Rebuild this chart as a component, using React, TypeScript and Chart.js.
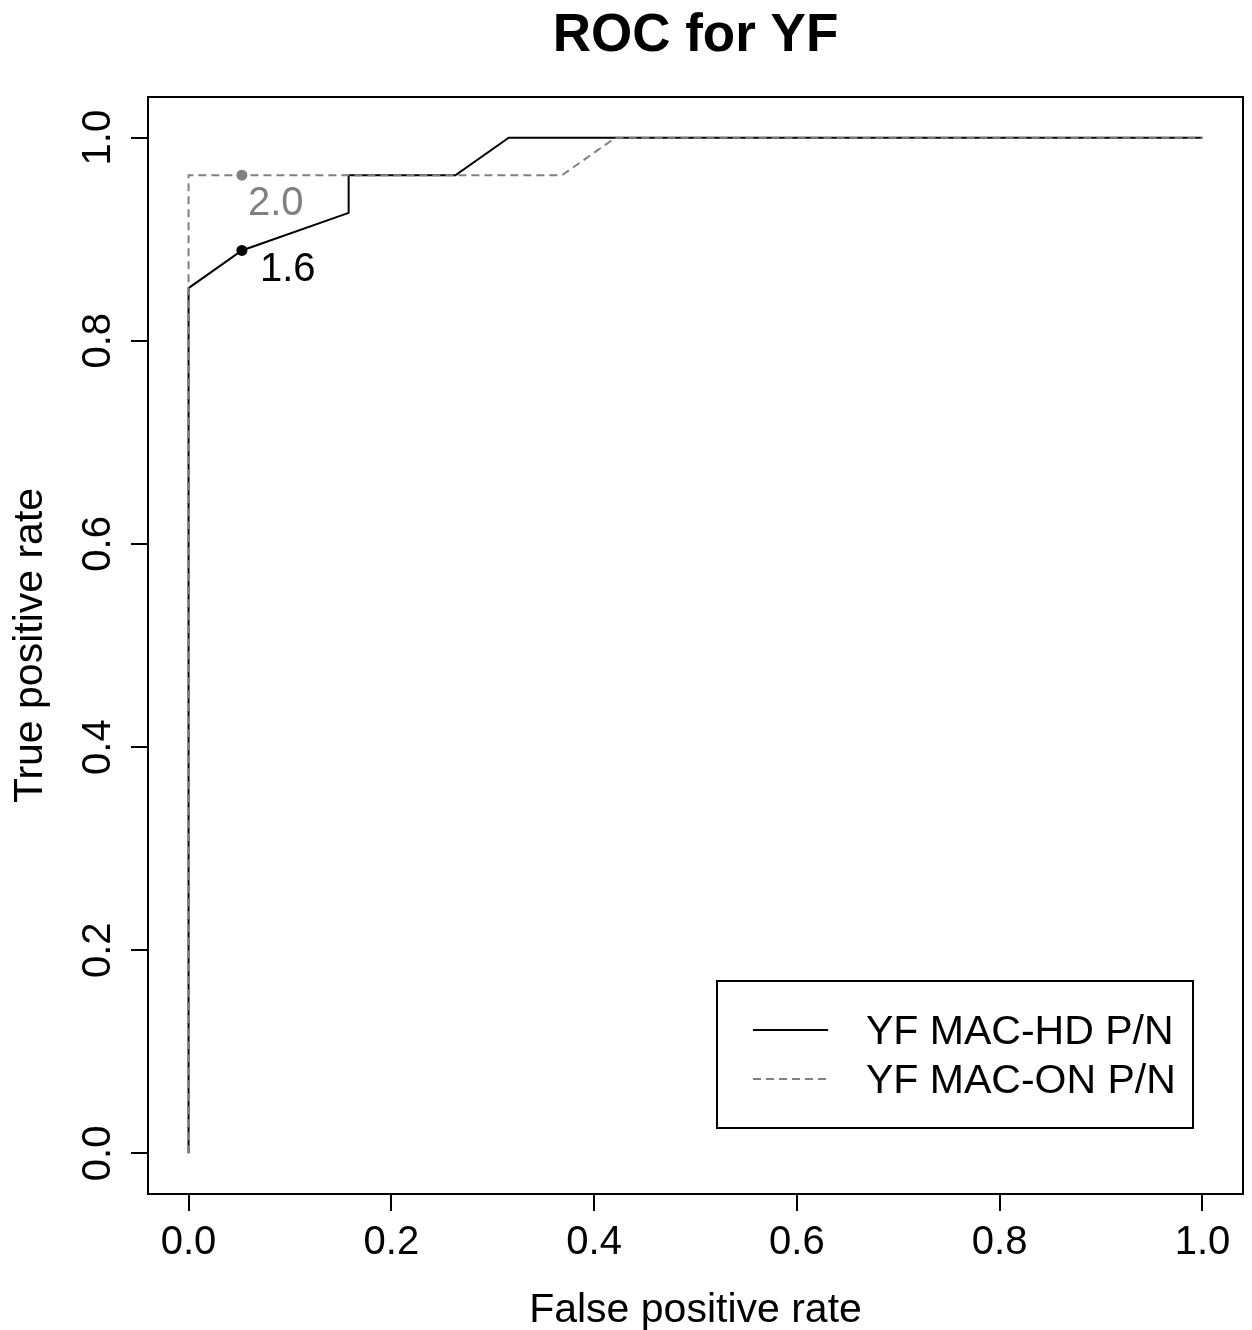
import React, { useEffect, useRef } from "react";
import { Chart, registerables } from "chart.js";

Chart.register(...registerables);

const TITLE = "ROC for YF";
const X_TITLE = "False positive rate";
const Y_TITLE = "True positive rate";
const TICK_VALUES = [0, 0.2, 0.4, 0.6, 0.8, 1.0];
const TICK_LABELS = ["0.0", "0.2", "0.4", "0.6", "0.8", "1.0"];
const SERIES_NAMES = ["YF MAC-HD P/N", "YF MAC-ON P/N"];

// YF MAC-HD P/N ROC curve
const HD_FPR = [0, 0, 0.0526, 0.1579, 0.1579, 0.2632, 0.3158, 1.0];
const HD_TPR = [0, 0.8519, 0.8889, 0.9259, 0.963, 0.963, 1.0, 1.0];
// YF MAC-ON P/N ROC curve
const ON_FPR = [0, 0, 0.3684, 0.4211, 1.0];
const ON_TPR = [0, 0.963, 0.963, 1.0, 1.0];

// cutoff markers
const CUTOFF_FPR = [0.0526, 0.0526];
const CUTOFF_TPR = [0.8889, 0.963];
const CUTOFF_LABELS = ["1.6", "2.0"];

const FONT = "'Liberation Sans', Arial, Helvetica, sans-serif";
const BLACK = "#000000";
const GRAY = "#808080";

const toPts = (xs: number[], ys: number[]) => xs.map((x, i) => ({ x, y: ys[i] }));

export default function App() {
  const ref = useRef<HTMLCanvasElement | null>(null);

  useEffect(() => {
    document.body.style.margin = "0";
    const canvas = ref.current;
    if (!canvas) return;

    const decor = {
      id: "decor",
      afterDraw(chart: any) {
        const { ctx, chartArea, scales } = chart;
        const xs = scales.x;
        const ys = scales.y;
        ctx.save();
        // plot box
        ctx.strokeStyle = BLACK;
        ctx.lineWidth = 2;
        ctx.strokeRect(chartArea.left, chartArea.top, chartArea.right - chartArea.left, chartArea.bottom - chartArea.top);

        ctx.fillStyle = BLACK;
        // title
        ctx.font = `bold 53px ${FONT}`;
        ctx.textAlign = "center";
        ctx.textBaseline = "alphabetic";
        const cx = (chartArea.left + chartArea.right) / 2;
        const cy = (chartArea.top + chartArea.bottom) / 2;
        ctx.fillText(TITLE, cx, 51);

        // x tick labels
        ctx.font = `40px ${FONT}`;
        TICK_VALUES.forEach((v, i) => {
          ctx.fillText(TICK_LABELS[i], xs.getPixelForValue(v), 1254);
        });
        // y tick labels (rotated)
        TICK_VALUES.forEach((v, i) => {
          ctx.save();
          ctx.translate(110, ys.getPixelForValue(v));
          ctx.rotate(-Math.PI / 2);
          ctx.fillText(TICK_LABELS[i], 0, 0);
          ctx.restore();
        });
        // axis titles
        ctx.font = `41px ${FONT}`;
        ctx.fillText(X_TITLE, cx, 1322);
        ctx.save();
        ctx.translate(42, cy);
        ctx.rotate(-Math.PI / 2);
        ctx.fillText(Y_TITLE, 0, 0);
        ctx.restore();

        // cutoff labels
        ctx.font = `40px ${FONT}`;
        ctx.textAlign = "left";
        const p0x = xs.getPixelForValue(CUTOFF_FPR[0]);
        const p0y = ys.getPixelForValue(CUTOFF_TPR[0]);
        ctx.fillStyle = BLACK;
        ctx.fillText(CUTOFF_LABELS[0], p0x + 18, p0y + 31);
        const p1x = xs.getPixelForValue(CUTOFF_FPR[1]);
        const p1y = ys.getPixelForValue(CUTOFF_TPR[1]);
        ctx.fillStyle = GRAY;
        ctx.fillText(CUTOFF_LABELS[1], p1x + 6, p1y + 40);

        // legend
        ctx.strokeStyle = BLACK;
        ctx.lineWidth = 2;
        ctx.strokeRect(717, 981, 476, 147);
        ctx.beginPath();
        ctx.moveTo(753, 1030);
        ctx.lineTo(828, 1030);
        ctx.stroke();
        ctx.strokeStyle = GRAY;
        ctx.setLineDash([8, 5]);
        ctx.beginPath();
        ctx.moveTo(753, 1079);
        ctx.lineTo(828, 1079);
        ctx.stroke();
        ctx.setLineDash([]);
        ctx.font = `41px ${FONT}`;
        ctx.fillStyle = BLACK;
        ctx.fillText(SERIES_NAMES[0], 866, 1044);
        ctx.fillText(SERIES_NAMES[1], 866, 1093);
        ctx.restore();
      },
    };

    const chart = new Chart(canvas, {
      type: "scatter",
      data: {
        datasets: [
          {
            label: SERIES_NAMES[1],
            data: toPts(ON_FPR, ON_TPR),
            showLine: true,
            borderColor: GRAY,
            borderWidth: 2,
            borderDash: [8, 5],
            pointRadius: 0,
            fill: false,
          },
          {
            label: SERIES_NAMES[0],
            data: toPts(HD_FPR, HD_TPR),
            showLine: true,
            borderColor: BLACK,
            borderWidth: 2,
            pointRadius: 0,
            fill: false,
          },
          {
            label: "cutoff HD",
            data: [{ x: CUTOFF_FPR[0], y: CUTOFF_TPR[0] }],
            showLine: false,
            pointRadius: 5.5,
            pointBackgroundColor: BLACK,
            pointBorderColor: BLACK,
            pointBorderWidth: 0,
          },
          {
            label: "cutoff ON",
            data: [{ x: CUTOFF_FPR[1], y: CUTOFF_TPR[1] }],
            showLine: false,
            pointRadius: 5.5,
            pointBackgroundColor: GRAY,
            pointBorderColor: GRAY,
            pointBorderWidth: 0,
          },
        ],
      },
      options: {
        animation: false,
        responsive: false,
        devicePixelRatio: 1,
        layout: { padding: { top: 97, right: 9, left: 0, bottom: 0 } },
        plugins: {
          legend: { display: false },
          title: { display: false },
          tooltip: { enabled: false },
        },
        scales: {
          x: {
            type: "linear",
            min: -0.04,
            max: 1.04,
            afterBuildTicks: (s: any) => {
              s.ticks = TICK_VALUES.map((v) => ({ value: v }));
            },
            afterFit: (s: any) => {
              s.height = 136;
              s.paddingLeft = 0;
              s.paddingRight = 0;
            },
            ticks: { display: false },
            border: { display: false },
            grid: {
              drawOnChartArea: false,
              drawTicks: true,
              tickLength: 17,
              color: BLACK,
              lineWidth: 2,
            },
          },
          y: {
            type: "linear",
            min: -0.04,
            max: 1.04,
            afterBuildTicks: (s: any) => {
              s.ticks = TICK_VALUES.map((v) => ({ value: v }));
            },
            afterFit: (s: any) => {
              s.width = 148;
              s.paddingTop = 0;
              s.paddingBottom = 0;
            },
            ticks: { display: false },
            border: { display: false },
            grid: {
              drawOnChartArea: false,
              drawTicks: true,
              tickLength: 17,
              color: BLACK,
              lineWidth: 2,
            },
          },
        },
      },
      plugins: [decor],
    });

    return () => chart.destroy();
  }, []);

  return (
    <div style={{ position: "absolute", left: 0, top: 0, width: 1252, height: 1330 }}>
      <canvas ref={ref} width={1252} height={1330} style={{ display: "block", width: 1252, height: 1330 }} />
    </div>
  );
}
